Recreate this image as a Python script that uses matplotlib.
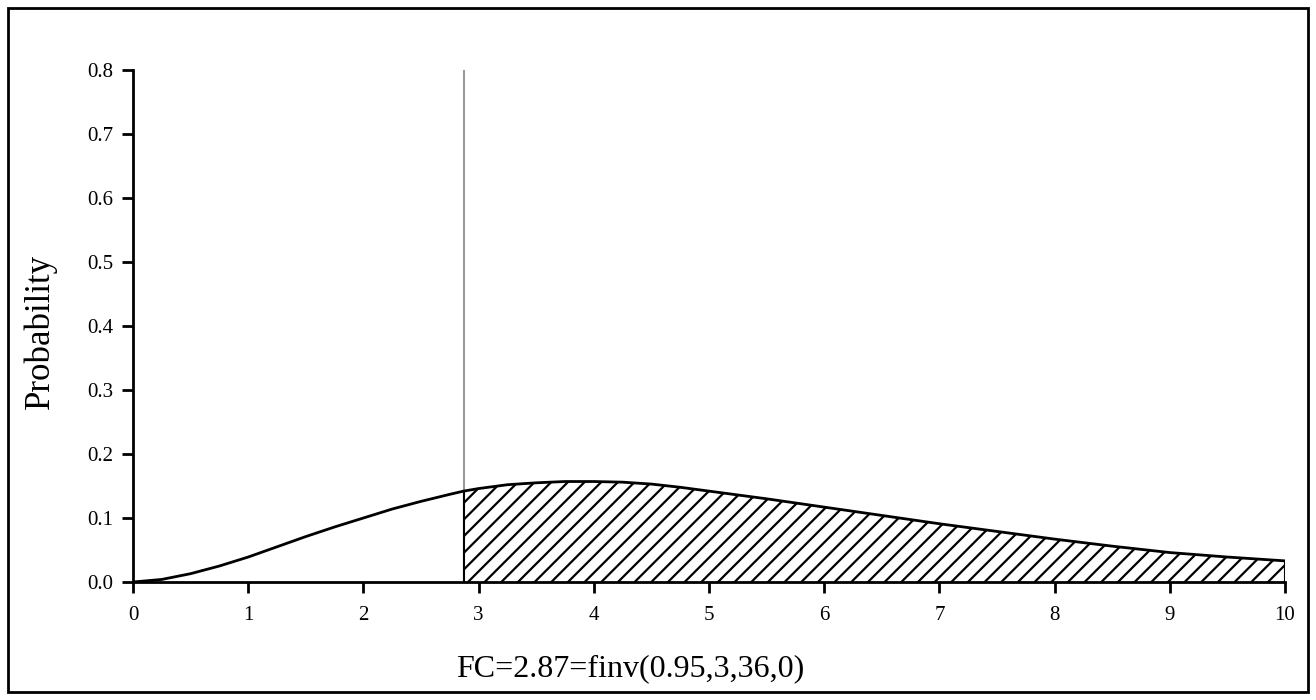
import numpy as np
import matplotlib.pyplot as plt
from matplotlib.patches import Rectangle

# curve
x_vals = [0, 0.25, 0.5, 0.75, 1.0, 1.25, 1.5, 1.75, 2.0, 2.25, 2.5, 2.75, 2.87,
          3.0, 3.25, 3.5, 3.75, 4.0, 4.25, 4.5, 4.75, 5.0, 5.5, 6.0, 6.5, 7.0,
          7.5, 8.0, 8.5, 9.0, 9.5, 10.0]
y_vals = [0.0, 0.004, 0.013, 0.025, 0.039, 0.055, 0.071, 0.086, 0.100, 0.114,
          0.126, 0.137, 0.142, 0.146, 0.152, 0.155, 0.157, 0.157, 0.156, 0.153,
          0.148, 0.142, 0.130, 0.117, 0.104, 0.091, 0.079, 0.067, 0.056, 0.046,
          0.039, 0.033]
fc = 2.87
x_ticks = list(range(0, 11))
y_ticks = [0.0, 0.1, 0.2, 0.3, 0.4, 0.5, 0.6, 0.7, 0.8]

plt.rcParams["font.family"] = ["Liberation Serif", "DejaVu Serif"]
plt.rcParams["hatch.linewidth"] = 1.6

fig = plt.figure(figsize=(13.16, 7), dpi=100)
ax = fig.add_axes([133 / 1316, 118 / 700, 1152 / 1316, 512 / 700])

x = np.array(x_vals)
y = np.array(y_vals)

# shaded tail beyond FC
mask = x >= fc
ax.fill_between(x[mask], 0, y[mask], facecolor="white", edgecolor="black",
                hatch="//", linewidth=0)
ax.plot(x, y, color="black", linewidth=2)
ax.plot([fc, fc], [0, y[x == fc][0]], color="black", linewidth=1.5)
ax.plot([10, 10], [0, y[-1]], color="black", linewidth=1.5)
ax.plot([fc, fc], [0, 0.8], color="#999999", linewidth=1.5, zorder=0)

ax.set_xlim(0, 10)
ax.set_ylim(0, 0.8)
ax.set_xticks(x_ticks)
ax.set_yticks(y_ticks)
ax.set_yticklabels(["%.1f" % v for v in y_ticks])
ax.spines["top"].set_visible(False)
ax.spines["right"].set_visible(False)
ax.spines["left"].set_linewidth(2)
ax.spines["bottom"].set_linewidth(2)
ax.tick_params(direction="out", length=8, width=2, labelsize=15)
ax.tick_params(axis="y", pad=6)
ax.tick_params(axis="x", pad=9)

fig.text(40 / 1316, 1 - 331 / 700, "Probability", rotation=90,
         ha="center", va="center", fontsize=25)
fig.text(630 / 1316, 1 - 676 / 700, "FC=2.87=finv(0.95,3,36,0)",
         ha="center", va="baseline", fontsize=23)

fig.patches.append(Rectangle((8 / 1316, 8 / 700), 1300 / 1316, 684 / 700,
                             transform=fig.transFigure, fill=False,
                             edgecolor="black", linewidth=2))

plt.savefig("out.png", dpi=100)
plt.close(fig)
